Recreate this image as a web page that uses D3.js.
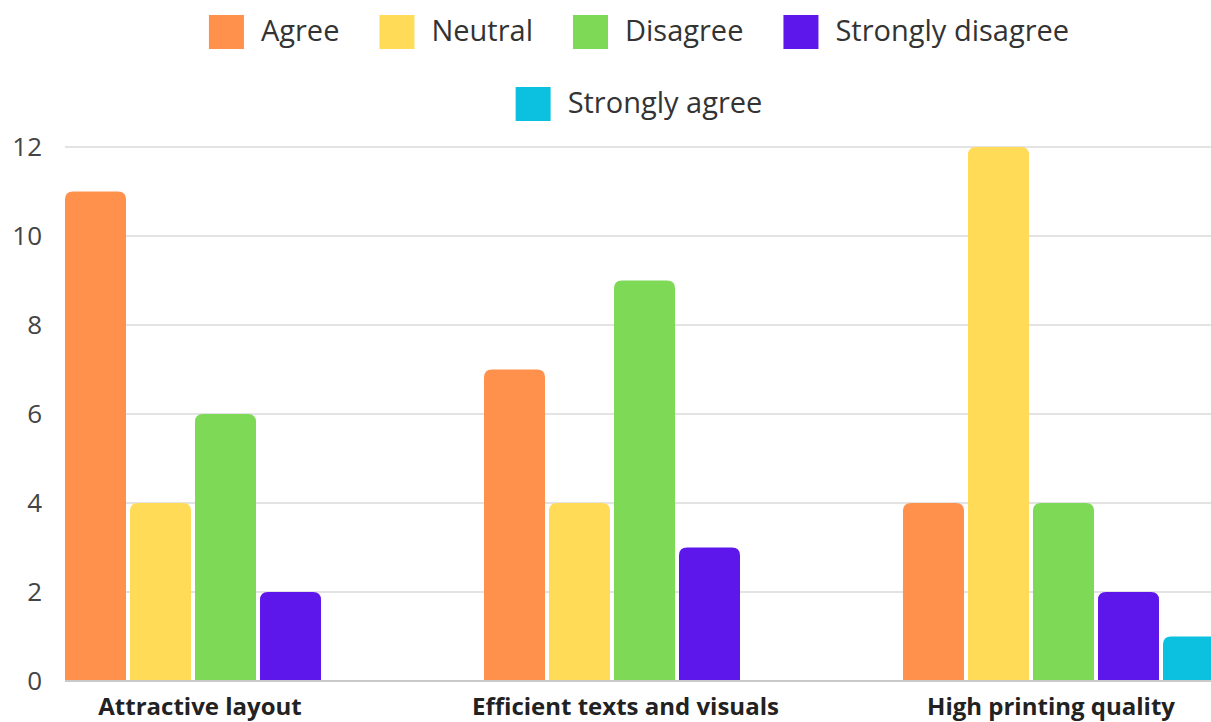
<!DOCTYPE html>
<html>
<head>
<meta charset="utf-8">
<script src="https://cdn.jsdelivr.net/npm/d3@7"></script>
<style>
  html, body { margin: 0; padding: 0; background: #fff; overflow: hidden; }
  svg { display: block; font-family: "Open Sans", sans-serif; }
</style>
</head>
<body>
<svg id="chart" width="1211" height="722"></svg>
<script>
// Survey responses per aspect
const categories = ["Attractive layout", "Efficient texts and visuals", "High printing quality"];
const seriesNames = ["Agree", "Neutral", "Disagree", "Strongly disagree", "Strongly agree"];
const agree = [11, 7, 4];
const neutral = [4, 4, 12];
const disagree = [6, 9, 4];
const stronglyDisagree = [2, 3, 2];
const stronglyAgree = [0, 0, 1];
const yTicks = [0, 2, 4, 6, 8, 10, 12];
const colors = ["#FF914D", "#FFDB58", "#7ED957", "#5E17EB", "#0CC0DF"];

const seriesValues = [agree, neutral, disagree, stronglyDisagree, stronglyAgree];

const svg = d3.select("#chart");

const x0 = d3.scaleBand()
  .domain(categories)
  .range([65, 1228])
  .paddingInner(0.2243)
  .paddingOuter(0);

const x1 = d3.scaleBand()
  .domain(seriesNames)
  .range([0, x0.bandwidth()])
  .padding(0);

// Category label anchors
const xLabel = d3.scalePoint().domain(categories).range([200, 1051]);

const y = d3.scaleLinear().domain([0, 12]).range([681, 147]);

// Gridlines
svg.append("g")
  .selectAll("line")
  .data(yTicks.filter(t => t !== 0))
  .join("line")
  .attr("x1", 65).attr("x2", 1211)
  .attr("y1", d => y(d)).attr("y2", d => y(d))
  .attr("stroke", "#e3e3e3").attr("stroke-width", 2);

// Y axis labels
const yAxis = d3.axisLeft(y).tickValues(yTicks).tickSize(0).tickPadding(0);
const gy = svg.append("g").attr("transform", "translate(42,0)").call(yAxis);
gy.select(".domain").remove();
gy.selectAll("text")
  .attr("font-family", "Open Sans")
  .attr("font-size", 26)
  .attr("fill", "#444")
  .attr("dy", "0.34em");

// Bars with rounded tops
const radius = 8;
function barPath(x, w, v) {
  const top = y(v), bottom = y(0);
  const r = Math.min(radius, (bottom - top), w / 2);
  return `M${x},${bottom} L${x},${top + r} Q${x},${top} ${x + r},${top} ` +
         `L${x + w - r},${top} Q${x + w},${top} ${x + w},${top + r} L${x + w},${bottom} Z`;
}

const rows = [];
categories.forEach((c, i) => {
  seriesNames.forEach((s, j) => {
    rows.push({ cat: c, series: s, value: seriesValues[j][i], color: colors[j] });
  });
});

svg.append("g")
  .selectAll("path")
  .data(rows.filter(d => d.value > 0))
  .join("path")
  .attr("d", d => barPath(x0(d.cat) + x1(d.series), x1.bandwidth() - 4, d.value))
  .attr("fill", d => d.color);

// Baseline
svg.append("line")
  .attr("x1", 65).attr("x2", 1211)
  .attr("y1", y(0)).attr("y2", y(0))
  .attr("stroke", "#c9c9c9").attr("stroke-width", 2);

// Category labels
svg.append("g")
  .selectAll("text")
  .data(categories)
  .join("text")
  .attr("x", d => xLabel(d))
  .attr("y", 715)
  .attr("text-anchor", "middle")
  .attr("font-family", "Open Sans")
  .attr("font-weight", 700)
  .attr("font-size", 24)
  .attr("fill", "#222")
  .text(d => d);

// Legend: two centred rows
const legendRows = [seriesNames.slice(0, 4), seriesNames.slice(4)];
const legendCenter = 639;
const swatch = 35, gapText = 17, gapItem = 40;
legendRows.forEach((names, r) => {
  const g = svg.append("g");
  const rowY = 15 + r * 72;
  let cx = 0;
  names.forEach(n => {
    const gi = g.append("g");
    gi.append("rect")
      .attr("width", swatch).attr("height", 34)
      .attr("fill", colors[seriesNames.indexOf(n)]);
    const t = gi.append("text")
      .attr("x", swatch + gapText).attr("y", 16)
      .attr("dy", "0.35em")
      .attr("font-family", "Open Sans")
      .attr("font-size", 29)
      .attr("fill", "#333")
      .text(n);
    const w = swatch + gapText + t.node().getComputedTextLength();
    gi.attr("transform", `translate(${cx},0)`);
    cx += w + gapItem;
  });
  const total = cx - gapItem;
  g.attr("transform", `translate(${legendCenter - total / 2},${rowY})`);
});
</script>
</body>
</html>
